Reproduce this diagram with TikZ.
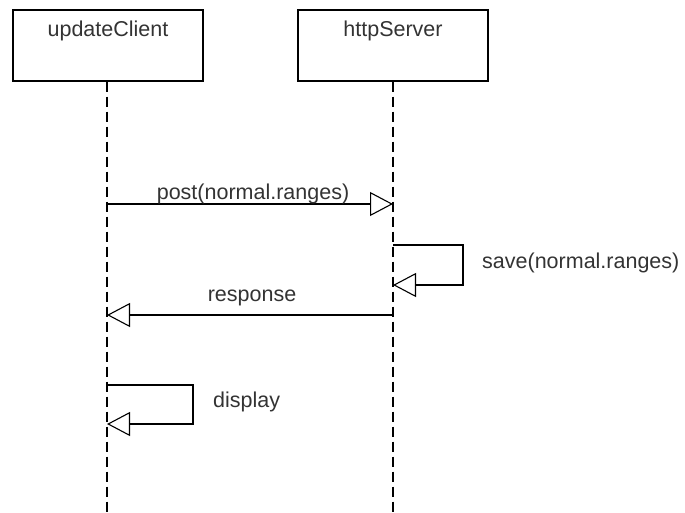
\documentclass[tikz,border=0pt]{standalone}
\usepackage{fontspec}
\setmainfont{Liberation Sans}
\usetikzlibrary{arrows.meta}
\definecolor{txt}{HTML}{333333}
\begin{document}
\begin{tikzpicture}[x=1pt,y=-1pt,
  lifebox/.style={draw=black,line width=1.3pt,minimum width=190pt,minimum height=71pt,inner sep=0pt},
  lifeline/.style={draw=black,line width=1.1pt,dash pattern=on 10pt off 5pt},
  msg/.style={draw=black,line width=1.1pt,-{Triangle[open,length=23pt,width=24pt,line width=1.1pt]}},
  lbl/.style={text=txt,font=\fontsize{21.5}{24}\selectfont,inner sep=0pt}]
\useasboundingbox (0,0) rectangle (685,512);
\node[lifebox] (uc) at (108,45.5) {};
\node[lifebox] (hs) at (393,45.5) {};
\node[lbl,anchor=base] (uct) at (108,36) {updateClient};
\node[lbl,anchor=base] (hst) at (393,36) {httpServer};
\coordinate (ucend) at (107,512);
\coordinate (hsend) at (393,512);
\draw[lifeline] (uc.south -| ucend) -- (ucend);
\draw[lifeline] (hs.south -| hsend) -- (hsend);
% post
\coordinate (a1) at (107,204);
\coordinate (a2) at (393,204);
\draw[msg] (a1) -- (a2);
\node[lbl,anchor=base] (postl) at (253,199) {post(normal.ranges)};
% save
\coordinate (s1) at (393,245);
\coordinate (s2) at (463,245);
\coordinate (s3) at (463,285);
\coordinate (s4) at (393,285);
\draw[msg] (s1) -- (s2) -- (s3) -- (s4);
\node[lbl,anchor=base west] (savel) at (482,268) {save(normal.ranges)};
% response
\coordinate (r1) at (393,315);
\coordinate (r2) at (107,315);
\draw[msg] (r1) -- (r2);
\node[lbl,anchor=base] (respl) at (252,301) {response};
% display
\coordinate (d1) at (107,385);
\coordinate (d2) at (193,385);
\coordinate (d3) at (193,424);
\coordinate (d4) at (107,424);
\draw[msg] (d1) -- (d2) -- (d3) -- (d4);
\node[lbl,anchor=base west] (displ) at (213,407) {display};
\end{tikzpicture}
\end{document}
